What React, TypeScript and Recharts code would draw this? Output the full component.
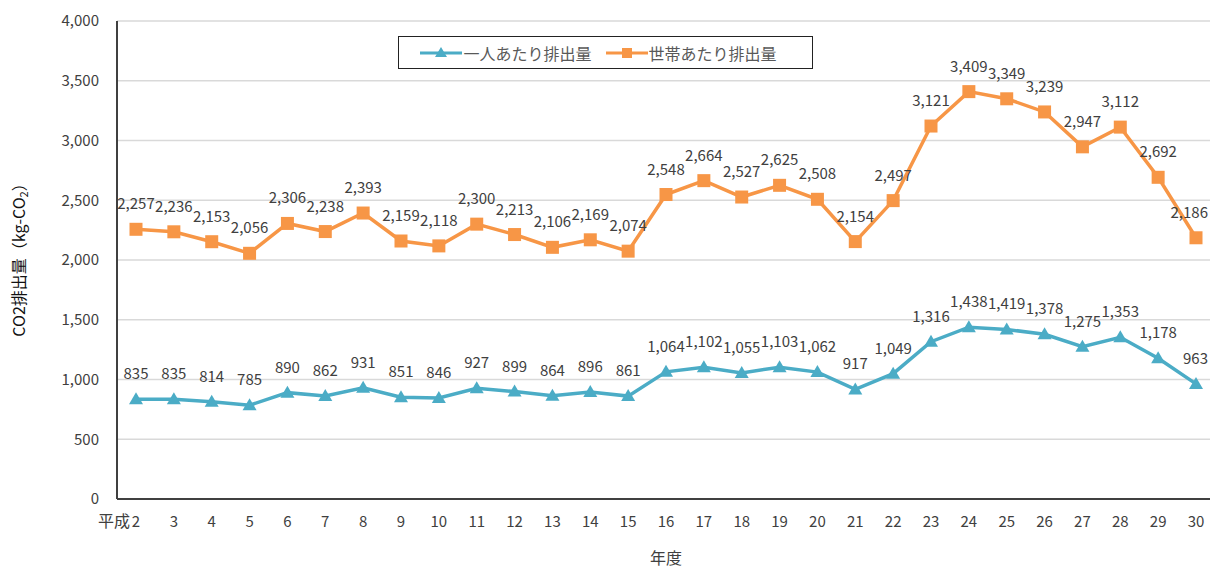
import React from 'react'
import { LineChart, Line, XAxis, YAxis, CartesianGrid, LabelList, Label } from 'recharts'

// 年度（平成）
const years = ['2', '3', '4', '5', '6', '7', '8', '9', '10', '11', '12', '13', '14', '15', '16', '17', '18', '19', '20', '21', '22', '23', '24', '25', '26', '27', '28', '29', '30']
// 一人あたり排出量 (kg-CO2)
const perPerson = [835, 835, 814, 785, 890, 862, 931, 851, 846, 927, 899, 864, 896, 861, 1064, 1102, 1055, 1103, 1062, 917, 1049, 1316, 1438, 1419, 1378, 1275, 1353, 1178, 963]
// 世帯あたり排出量 (kg-CO2)
const perHousehold = [2257, 2236, 2153, 2056, 2306, 2238, 2393, 2159, 2118, 2300, 2213, 2106, 2169, 2074, 2548, 2664, 2527, 2625, 2508, 2154, 2497, 3121, 3409, 3349, 3239, 2947, 3112, 2692, 2186]
const yTicks = [0, 500, 1000, 1500, 2000, 2500, 3000, 3500, 4000]

const BLUE = '#4BACC6'
const ORANGE = '#F79646'
const TEXT = '#404040'
const FONT = '"Noto Sans CJK JP", "Noto Sans", sans-serif'
const W = 1218
const LABEL_RIGHT = 1208

const data = years.map((y, i) => ({ year: y, person: perPerson[i], household: perHousehold[i] }))

const fmt = (v: number) => v.toLocaleString('en-US')

function Triangle(props: any) {
  const { cx, cy } = props
  if (cx == null || cy == null) return null
  return <path d={`M${cx},${cy - 7} L${cx + 7},${cy + 5} L${cx - 7},${cy + 5} Z`} fill={BLUE} />
}

function Square(props: any) {
  const { cx, cy } = props
  if (cx == null || cy == null) return null
  return <rect x={cx - 6.5} y={cy - 6.5} width={13} height={13} fill={ORANGE} />
}

// 値ラベル（右端ではみ出さないよう寄せる）
function ValueLabel(props: any) {
  const { x, y, width, value } = props
  const cx = x + (width || 0) / 2
  const nearEdge = cx + 20 > LABEL_RIGHT
  return (
    <text x={nearEdge ? LABEL_RIGHT : cx} y={y - 20} textAnchor={nearEdge ? 'end' : 'middle'} fontSize={15} fill={TEXT} fontFamily={FONT}>
      {fmt(value)}
    </text>
  )
}

function XTick(props: any) {
  const { x, y, payload, index } = props
  return (
    <g>
      <text x={x} y={y + 20} textAnchor="middle" fontSize={15} fill={TEXT} fontFamily={FONT}>{payload.value}</text>
      {index === 0 && (
        <text x={x - 6} y={y + 20} textAnchor="end" fontSize={16} fill={TEXT} fontFamily={FONT}>平成</text>
      )}
    </g>
  )
}

function YTitle(props: any) {
  const { viewBox } = props
  const cx = 21
  const cy = viewBox.y + viewBox.height / 2 - 4
  return (
    <text x={cx} y={cy} transform={`rotate(-90 ${cx} ${cy})`} textAnchor="middle" dominantBaseline="middle" fontSize={16} fill="#111" fontFamily={FONT}>
      CO2排出量（kg-CO<tspan fontSize={11} dy={4}>2</tspan><tspan dy={-4}>）</tspan>
    </text>
  )
}

function LegendItem({ color, marker, text }: { color: string; marker: 'tri' | 'sq'; text: string }) {
  return (
    <div style={{ display: 'flex', alignItems: 'center', marginRight: 14 }}>
      <svg width={42} height={14}>
        <line x1={0} y1={7} x2={42} y2={7} stroke={color} strokeWidth={3} />
        {marker === 'tri'
          ? <path d="M21,1 L27,11 L15,11 Z" fill={color} />
          : <rect x={16} y={2} width={10} height={10} fill={color} />}
      </svg>
      <span style={{ fontSize: 16, color: '#595959', marginLeft: 1 }}>{text}</span>
    </div>
  )
}

export default function App() {
  return (
    <div style={{ position: 'relative', width: W, height: 574, margin: -8, background: '#fff', fontFamily: FONT }}>
      <LineChart width={W} height={574} data={data} margin={{ top: 21, right: 3, bottom: 45, left: 0 }}>
        <CartesianGrid vertical={false} stroke="#d9d9d9" strokeWidth={1.5} />
        <XAxis
          dataKey="year"
          height={30}
          padding={{ left: 19, right: 19 }}
          tick={<XTick />}
          tickLine={false}
          axisLine={{ stroke: TEXT, strokeWidth: 2 }}
          interval={0}
        >
          <Label value="年度" position="bottom" offset={24} fontSize={16} fill={TEXT} fontFamily={FONT} />
        </XAxis>
        <YAxis
          width={117}
          domain={[0, 4000]}
          ticks={yTicks}
          tickFormatter={fmt}
          tickLine={false}
          tick={{ fontSize: 15, fill: TEXT, fontFamily: FONT }}
          tickMargin={12}
          axisLine={{ stroke: TEXT, strokeWidth: 2 }}
        >
          <Label content={<YTitle />} />
        </YAxis>
        <Line dataKey="person" stroke={BLUE} strokeWidth={3.5} dot={<Triangle />} isAnimationActive={false}>
          <LabelList dataKey="person" content={<ValueLabel />} />
        </Line>
        <Line dataKey="household" stroke={ORANGE} strokeWidth={3.5} dot={<Square />} isAnimationActive={false}>
          <LabelList dataKey="household" content={<ValueLabel />} />
        </Line>
      </LineChart>
      <div style={{ position: 'absolute', left: 398, top: 36, width: 413, height: 31, border: '1.5px solid #222', display: 'flex', alignItems: 'center', justifyContent: 'center', background: '#fff' }}>
        <LegendItem color={BLUE} marker="tri" text="一人あたり排出量" />
        <LegendItem color={ORANGE} marker="sq" text="世帯あたり排出量" />
      </div>
    </div>
  )
}
